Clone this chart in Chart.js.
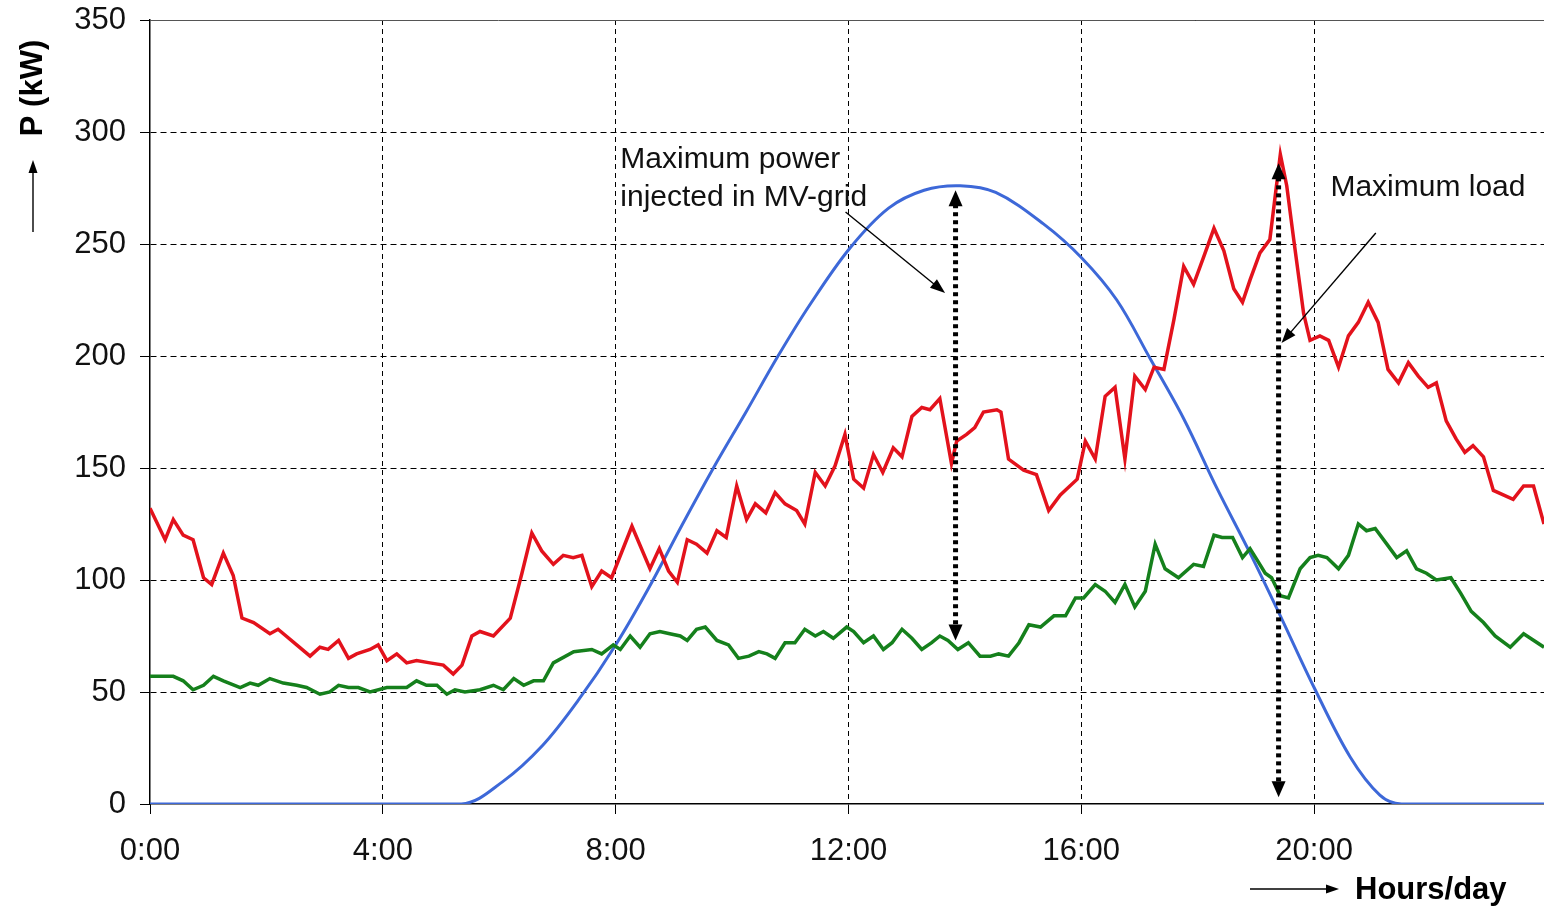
<!DOCTYPE html>
<html>
<head>
<meta charset="utf-8">
<script src="https://cdn.jsdelivr.net/npm/chart.js@4.4.1/dist/chart.umd.min.js"></script>
<style>
  html, body { margin: 0; padding: 0; background: #fff; }
</style>
</head>
<body>
<canvas id="chart" width="1544" height="909"></canvas>
<script>
// tick labels on the time axis (hours)
const hourTicks = [0, 4, 8, 12, 16, 20];
const hourLabels = ['0:00', '4:00', '8:00', '12:00', '16:00', '20:00'];

// red curve (load)
const loadHours = [0, 0.26, 0.4, 0.57, 0.74, 0.92, 1.06, 1.26, 1.43, 1.58, 1.78, 2.06, 2.2, 2.52, 2.75, 2.92, 3.06, 3.24, 3.41, 3.55,
  3.78, 3.92, 4.07, 4.24, 4.41, 4.58, 4.81, 5.04, 5.21, 5.36, 5.53, 5.67, 5.9, 6.19, 6.39, 6.56, 6.73, 6.93, 7.1, 7.27,
  7.42, 7.59, 7.76, 7.93, 8.28, 8.59, 8.75, 8.91, 9.06, 9.23, 9.39, 9.57, 9.74, 9.9, 10.08, 10.25, 10.4, 10.58, 10.74, 10.91,
  11.11, 11.25, 11.43, 11.6, 11.77, 11.94, 12.09, 12.26, 12.43, 12.59, 12.77, 12.92, 13.09, 13.26, 13.4, 13.57, 13.77, 13.86, 14.03, 14.17,
  14.32, 14.55, 14.62, 14.75, 15.01, 15.23, 15.44, 15.64, 15.93, 16.07, 16.24, 16.41, 16.58, 16.75, 16.92, 17.1, 17.25, 17.42, 17.59, 17.76,
  17.93, 18.1, 18.28, 18.45, 18.62, 18.77, 18.9, 19.07, 19.24, 19.42, 19.53, 19.65, 19.82, 19.93, 20.1, 20.25, 20.42, 20.59, 20.76, 20.93,
  21.1, 21.27, 21.45, 21.62, 21.79, 21.96, 22.1, 22.27, 22.44, 22.59, 22.73, 22.91, 23.08, 23.25, 23.42, 23.6, 23.77, 23.95];
const loadKW = [132, 118, 127, 120, 118, 101, 98, 112, 102, 83, 81, 76, 78, 71, 66, 70, 69, 73, 65, 67,
  69, 71, 64, 67, 63, 64, 63, 62, 58, 62, 75, 77, 75, 83, 103, 121, 113, 107, 111, 110,
  111, 97, 104, 101, 124, 105, 114, 104, 99, 118, 116, 112, 122, 119, 142, 127, 134, 130, 139, 134,
  131, 125, 148, 142, 151, 165, 145, 141, 156, 148, 159, 155, 173, 177, 176, 181, 152, 162, 165, 168,
  175, 176, 175, 154, 149, 147, 131, 138, 145, 162, 154, 182, 186, 154, 191, 185, 195, 194, 216, 240,
  232, 244, 257, 247, 230, 224, 234, 246, 252, 290, 276, 252, 219, 207, 209, 207, 195, 209, 215, 224,
  215, 194, 188, 197, 191, 186, 188, 171, 163, 157, 160, 155, 140, 138, 136, 142, 142, 125];

// green curve
const greenHours = [0, 0.4, 0.57, 0.74, 0.92, 1.09, 1.26, 1.55, 1.72, 1.86, 2.06, 2.29, 2.52, 2.69, 2.92, 3.09, 3.24, 3.41, 3.58, 3.78,
  4.07, 4.41, 4.58, 4.75, 4.93, 5.1, 5.24, 5.41, 5.67, 5.9, 6.07, 6.25, 6.42, 6.59, 6.76, 6.93, 7.28, 7.59, 7.76, 7.96,
  8.08, 8.25, 8.42, 8.59, 8.76, 8.93, 9.11, 9.23, 9.39, 9.54, 9.74, 9.94, 10.11, 10.29, 10.46, 10.6, 10.74, 10.91, 11.08, 11.25,
  11.43, 11.57, 11.74, 11.97, 12.09, 12.26, 12.43, 12.6, 12.75, 12.92, 13.09, 13.26, 13.43, 13.57, 13.71, 13.88, 14.06, 14.26, 14.44, 14.58,
  14.75, 14.93, 15.1, 15.3, 15.53, 15.73, 15.9, 16.04, 16.24, 16.41, 16.58, 16.75, 16.92, 17.1, 17.27, 17.44, 17.67, 17.93, 18.1, 18.28,
  18.42, 18.6, 18.77, 18.9, 19.02, 19.16, 19.27, 19.42, 19.56, 19.76, 19.93, 20.07, 20.22, 20.42, 20.59, 20.76, 20.9, 21.05, 21.25, 21.42,
  21.59, 21.76, 21.93, 22.1, 22.35, 22.52, 22.7, 22.91, 23.11, 23.37, 23.6, 23.95];
const greenKW = [57, 57, 55, 51, 53, 57, 55, 52, 54, 53, 56, 54, 53, 52, 49, 50, 53, 52, 52, 50,
  52, 52, 55, 53, 53, 49, 51, 50, 51, 53, 51, 56, 53, 55, 55, 63, 68, 69, 67, 71,
  69, 75, 70, 76, 77, 76, 75, 73, 78, 79, 73, 71, 65, 66, 68, 67, 65, 72, 72, 78,
  75, 77, 74, 79, 77, 72, 75, 69, 72, 78, 74, 69, 72, 75, 73, 69, 72, 66, 66, 67,
  66, 72, 80, 79, 84, 84, 92, 92, 98, 95, 90, 98, 88, 95, 116, 105, 101, 107, 106, 120,
  119, 119, 110, 114, 109, 103, 101, 93, 92, 105, 110, 111, 110, 105, 111, 125, 122, 123, 116, 110,
  113, 105, 103, 100, 101, 94, 86, 81, 75, 70, 76, 70];

// blue curve (PV power injected)
const pvHours = [0, 5.35, 6.06, 6.74, 7.35, 8.0, 8.58, 9.13, 9.68, 10.24, 10.79, 11.34, 12.02, 12.69, 13.3, 13.92,
  14.53, 15.35, 16.0, 16.61, 17.18, 17.76, 18.33, 18.9, 19.42, 20.0, 20.62, 21.13, 21.5, 23.95];
const pvKW = [0, 0, 10, 26, 46, 71, 97, 124, 150, 175, 200, 223, 248, 266, 274, 276,
  273, 259, 244, 225, 199, 172, 141, 112, 84, 52, 21, 4, 0, 0];

const FONT = 'Liberation Sans, Arial, sans-serif';

function pts(xs, ys) {
  return xs.map((x, i) => ({ x: x, y: ys[i] }));
}

function head(c, x, y, angle, len, half) {
  c.save();
  c.translate(x, y);
  c.rotate(angle);
  c.beginPath();
  c.moveTo(0, 0);
  c.lineTo(-len, -half);
  c.lineTo(-len, half);
  c.closePath();
  c.fill();
  c.restore();
}

function thinArrow(c, x1, y1, x2, y2) {
  const a = Math.atan2(y2 - y1, x2 - x1);
  c.save();
  c.strokeStyle = '#000';
  c.fillStyle = '#000';
  c.lineWidth = 1.4;
  c.beginPath();
  c.moveTo(x1, y1);
  c.lineTo(x2 - 12 * Math.cos(a), y2 - 12 * Math.sin(a));
  c.stroke();
  head(c, x2, y2, a, 15, 5.5);
  c.restore();
}

function dottedArrow(c, x, yTop, yBot) {
  c.save();
  c.strokeStyle = '#000';
  c.fillStyle = '#000';
  c.lineWidth = 5;
  c.setLineDash([4, 4]);
  c.beginPath();
  c.moveTo(x, yTop + 14);
  c.lineTo(x, yBot - 14);
  c.stroke();
  c.setLineDash([]);
  head(c, x, yTop, -Math.PI / 2, 16, 7);
  head(c, x, yBot, Math.PI / 2, 16, 7);
  c.restore();
}

const decorations = {
  id: 'decorations',
  afterDraw(chart) {
    const c = chart.ctx;
    const area = chart.chartArea;
    const px = h => chart.scales.x.getPixelForValue(h);
    const py = v => chart.scales.y.getPixelForValue(v);

    // top frame line
    c.save();
    c.strokeStyle = '#555';
    c.lineWidth = 1;
    c.beginPath();
    c.moveTo(area.left, area.top + 0.5);
    c.lineTo(area.right, area.top + 0.5);
    c.stroke();
    c.restore();

    // dotted double arrows
    dottedArrow(c, px(13.84), py(274), py(73));
    dottedArrow(c, px(19.39), py(286), py(3));

    // labels with pointer arrows
    c.save();
    c.fillStyle = '#111';
    c.font = '30px ' + FONT;
    c.textBaseline = 'middle';
    c.textAlign = 'left';
    c.fillText('Maximum power', px(8.08), py(287.5));
    c.fillText('injected in MV-grid', px(8.08), py(270.5));
    c.fillText('Maximum load', px(20.28), py(275));
    c.restore();
    thinArrow(c, px(11.95), py(264.3), px(13.66), py(228.1));
    thinArrow(c, px(21.06), py(254.9), px(19.44), py(205.8));

    // y axis title with arrow
    c.save();
    c.fillStyle = '#000';
    c.font = 'bold 31px ' + FONT;
    c.translate(33, area.top + 68);
    c.rotate(-Math.PI / 2);
    c.textAlign = 'center';
    c.textBaseline = 'middle';
    c.fillText('P (kW)', 0, 0);
    c.restore();
    c.save();
    c.strokeStyle = '#000';
    c.fillStyle = '#000';
    c.lineWidth = 1.4;
    c.beginPath();
    c.moveTo(33, area.top + 212);
    c.lineTo(33, area.top + 150);
    c.stroke();
    head(c, 33, area.top + 140, -Math.PI / 2, 13, 4.5);
    c.restore();

    // x axis title with arrow
    c.save();
    c.strokeStyle = '#000';
    c.fillStyle = '#000';
    c.lineWidth = 1.4;
    const ty = area.bottom + 85;
    c.beginPath();
    c.moveTo(1250, ty);
    c.lineTo(1328, ty);
    c.stroke();
    head(c, 1339, ty, 0, 13, 4.5);
    c.font = 'bold 31px ' + FONT;
    c.textAlign = 'left';
    c.textBaseline = 'middle';
    c.fillText('Hours/day', 1355, ty + 1);
    c.restore();
  }
};

const gridColor = (ctx) => (ctx.tick && ctx.tick.value === 0 ? 'rgba(0,0,0,0)' : '#000');

new Chart(document.getElementById('chart'), {
  type: 'line',
  data: {
    datasets: [
      {
        label: 'Load',
        data: pts(loadHours, loadKW),
        borderColor: '#e3121c',
        borderWidth: 3.5,
        pointRadius: 0,
        tension: 0
      },
      {
        label: 'Green',
        data: pts(greenHours, greenKW),
        borderColor: '#15801c',
        borderWidth: 3.5,
        pointRadius: 0,
        tension: 0
      },
      {
        label: 'PV',
        data: pts(pvHours, pvKW),
        borderColor: '#3d68d8',
        borderWidth: 3,
        pointRadius: 0,
        tension: 0.35
      }
    ]
  },
  options: {
    responsive: false,
    animation: false,
    devicePixelRatio: 1,
    layout: { padding: { top: 20, right: 0, bottom: 0, left: 0 } },
    plugins: {
      legend: { display: false },
      tooltip: { enabled: false }
    },
    scales: {
      x: {
        type: 'linear',
        min: 0,
        max: 23.95,
        afterFit(scale) { scale.height = 105; scale.paddingRight = 0; },
        afterBuildTicks(scale) { scale.ticks = hourTicks.map(v => ({ value: v })); },
        grid: { color: gridColor, lineWidth: 1, tickLength: 10, tickColor: '#000' },
        border: { display: true, color: '#000', width: 1.5, dash: [5, 4] },
        ticks: {
          color: '#111',
          font: { family: FONT, size: 31 },
          padding: 19,
          maxRotation: 0,
          autoSkip: false,
          callback: (v) => hourLabels[hourTicks.indexOf(v)]
        }
      },
      y: {
        min: 0,
        max: 350,
        afterFit(scale) { scale.width = 150; scale.paddingTop = 0; scale.paddingBottom = 0; },
        grid: { color: gridColor, lineWidth: 1, tickLength: 10, tickColor: '#000' },
        border: { display: true, color: '#000', width: 1.5, dash: [6, 4] },
        ticks: {
          stepSize: 50,
          color: '#111',
          font: { family: FONT, size: 31 },
          padding: 14
        }
      }
    }
  },
  plugins: [decorations]
});
</script>
</body>
</html>
